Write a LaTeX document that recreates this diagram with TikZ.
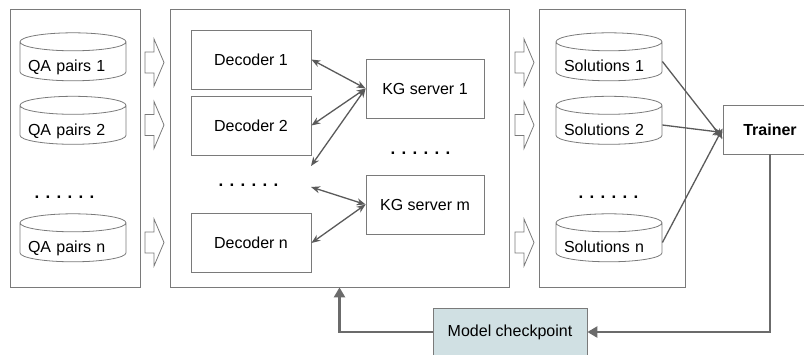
\documentclass[tikz,border=0pt]{standalone}
\usepackage{fontspec}
\setmainfont{Liberation Sans}
\usetikzlibrary{shapes.geometric,arrows.meta}
\definecolor{linegray}{HTML}{5A5A5A}
\definecolor{boxgray}{HTML}{7A7A7A}
\definecolor{ckptfill}{HTML}{D0E0E3}

\begin{document}
\begin{tikzpicture}[x=1pt,y=-1pt,
  font=\fontsize{16}{19}\selectfont,
  every node/.style={inner sep=0pt},
  panel/.style={draw=boxgray, line width=0.8pt, minimum height=278pt},
  box/.style={draw=boxgray, line width=0.8pt, minimum height=59pt},
  db/.style={cylinder, shape border rotate=90, draw=boxgray, line width=0.8pt,
    aspect=0.2, minimum width=106pt, minimum height=48pt, text width=90pt, align=left,
    text height=20pt, text depth=0pt},
  hollow/.pic={\draw[boxgray, line width=0.8pt, line join=miter]
    (-9.5,-10.5) -- (-0.5,-10.5) -- (-0.5,-23.5) -- (9.5,0) -- (-0.5,23.5)
    -- (-0.5,10.5) -- (-9.5,10.5) -- cycle;},
  dots/.style={font=\fontsize{17}{19}\selectfont\bfseries},
  link/.style={draw=linegray, line width=1.3pt, {Stealth[length=9pt,width=7pt]}-{Stealth[length=9pt,width=7pt]}},
  feed/.style={draw=linegray, line width=1.3pt, -{Stealth[length=10pt,width=8pt]}},
  back/.style={draw=linegray!90, line width=2.6pt, -{Triangle[length=10pt,width=11pt]}}
]
\useasboundingbox (0,0) rectangle (804,354);
\clip (0,0) rectangle (804,354);

% three panels
\node[panel, minimum width=130pt] (inputs) at (75,148) {};
\node[panel, minimum width=339pt] (workers) at (339.5,148) {};
\node[panel, minimum width=146pt] (outputs) at (612,148) {};

% input data
\node[db] (qa1) at (73,61.5) {QA pairs 1};
\node[db] (qa2) at (73,125) {QA pairs 2};
\node[dots] (qadots) at (64.5,197) {. . . . . .};
\node[db] (qan) at (73,242.5) {QA pairs n};

% hollow arrows
\foreach \y in {62.5,125,242.5} {
  \pic at (154.5,\y) {hollow};
  \pic at (524.5,\y) {hollow};
}

% decoders and KG servers
\node[box, minimum width=120pt] (dec1) at (251,59.5) {Decoder 1};
\node[box, minimum width=120pt] (dec2) at (251,125.5) {Decoder 2};
\node[dots] (decdots) at (248.5,185) {. . . . . .};
\node[box, minimum width=120pt] (decn) at (251,243) {Decoder n};
\node[box, minimum width=118pt] (kg1) at (425,88.5) {KG server 1};
\node[dots] (kgdots) at (420.5,153) {. . . . . .};
\node[box, minimum width=118pt] (kgm) at (425,204.5) {KG server m};
\coordinate (freea) at (311,166);
\coordinate (freeb) at (311,187);

\draw[link] (dec1.east) -- (kg1.west);
\draw[link] (dec2.east) -- (kg1.west);
\draw[link] (freea) -- (kg1.west);
\draw[link] (freeb) -- (kgm.west);
\draw[link] (decn.east) -- (kgm.west);

% solutions
\node[db] (sol1) at (609,61.5) {Solutions 1};
\node[db] (sol2) at (609,125) {Solutions 2};
\node[dots] (soldots) at (608.5,197) {. . . . . .};
\node[db] (soln) at (609,242.5) {Solutions n};

% trainer and checkpoint
\node[box, minimum width=94pt, minimum height=49pt, font=\fontsize{16}{19}\selectfont\bfseries] (trainer) at (770,129.5) {Trainer};
\node[box, fill=ckptfill, minimum width=154pt, minimum height=48pt] (ckpt) at (510,332) {Model checkpoint};

\draw[feed] (sol1.east) -- ([yshift=-9pt]trainer.west);
\draw[feed] (sol2.east) -- ([yshift=-3pt]trainer.west);
\draw[feed] (soln.east) -- ([yshift=1pt]trainer.west);

\draw[back] (trainer.south) |- (ckpt.east);
\draw[back] (ckpt.west) -| (workers.south);
\end{tikzpicture}
\end{document}
